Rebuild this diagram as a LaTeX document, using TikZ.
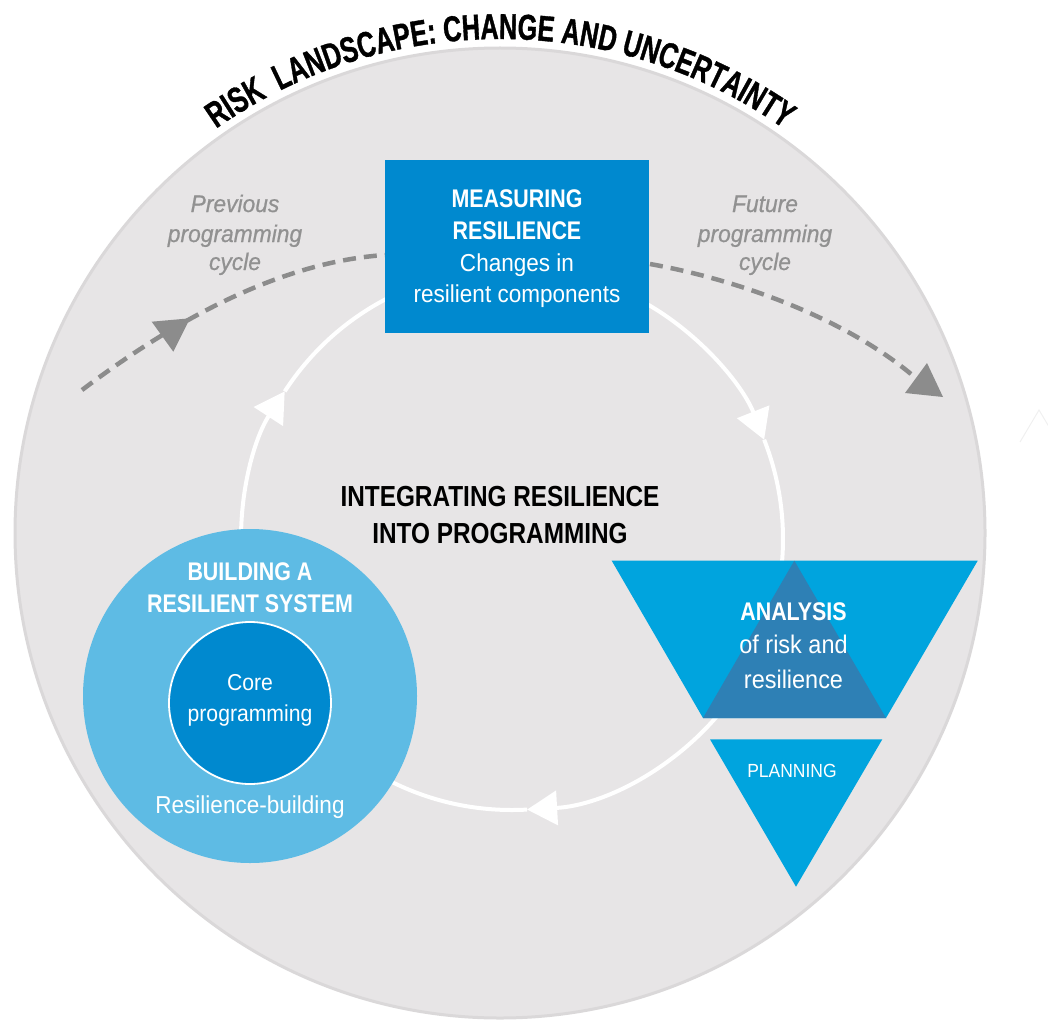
\documentclass[tikz,border=0pt]{standalone}
\usepackage{fontspec}
\usetikzlibrary{arrows.meta,decorations.text}
\newfontfamily\titlefont[FakeStretch=0.7,FakeBold=1]{Liberation Sans}
\newfontfamily\condfont[FakeStretch=0.84]{Liberation Sans}
\newfontfamily\regfont[FakeStretch=0.92]{Liberation Sans}
\newfontfamily\itfont[FakeBold=0.7,FakeStretch=0.95]{Liberation Sans}
\definecolor{bgfill}{RGB}{231,229,230}
\definecolor{bgrim}{RGB}{218,216,217}
\definecolor{boxblue}{RGB}{0,137,207}
\definecolor{ringblue}{RGB}{94,187,228}
\definecolor{triblue}{RGB}{0,164,222}
\definecolor{tridark}{RGB}{46,128,181}
\definecolor{greytext}{RGB}{145,145,145}
\definecolor{dashgrey}{RGB}{140,140,140}
\begin{document}
\begin{tikzpicture}[x=1pt,y=-1pt,
  lbl/.style={inner sep=0pt, anchor=base, text=white},
  boldtxt/.style={font=\condfont\bfseries\fontsize{25.5}{30}\selectfont},
  regtxt/.style={font=\regfont\fontsize{24.5}{30}\selectfont},
  greytxt/.style={inner sep=0pt, anchor=base, text=greytext, font=\itfont\itshape\fontsize{24}{29}\selectfont},
  loopline/.style={white, line width=4pt, -{Triangle[length=30pt,width=34pt]}},
  dashline/.style={dashgrey, line width=4.5pt, dash pattern=on 13pt off 8pt},
]
\useasboundingbox (0,0) rectangle (1048,1019);
% background landscape circle
\coordinate (bc) at (500,533);
\fill[bgfill, draw=bgrim, line width=3pt] (bc) circle[radius=485];
% title along arc
\path[decorate, decoration={text along path, text align=center,
  text={|\titlefont\bfseries\fontsize{36}{38}\selectfont|RISK {~}LANDSCAPE: CHANGE AND UNCERTAINTY}}]
  (bc) ++(230:494) arc[start angle=230, end angle=310, radius=494];
% faint outline triangle at right edge
\draw[white!94!black, line width=1pt] (1020,442) -- (1039,410) -- (1058,442);
% previous / future programming cycle dashed arcs
\draw[dashline] (82,390) .. controls (175,320) and (280,262) .. (385,255);
\fill[dashgrey] (151.7,321.7) -- (190,318.3) -- (173.3,351.7) -- cycle;
\draw[dashline] (650,264) .. controls (740,280) and (850,320) .. (918,380);
\fill[dashgrey] (905,393) -- (927,363) -- (943,397) -- cycle;
% inner white cycle
\coordinate (ic) at (512,539);
\draw[loopline] (ic) ++(338.5:271) arc[start angle=338.5, end angle=446.8, radius=271];
\draw[loopline] (ic) ++(86.8:271) arc[start angle=86.8, end angle=213, radius=271];
\draw[loopline] (ic) ++(213:271) arc[start angle=213, end angle=338.5, radius=271];
% measuring box
\fill[boxblue] (385,160) rectangle (649,333);
% building circle
\coordinate (bcen) at (250,696);
\fill[ringblue] (bcen) circle[radius=167];
\fill[boxblue, draw=white, line width=1.8pt] (250,703) circle[radius=81];
% analysis + planning triangles
\fill[triblue] (611.7,560.7) -- (977.7,560.7) -- (886,718) -- (703,718) -- cycle;
\fill[tridark] (794.3,560.7) -- (886,718) -- (703,718) -- cycle;
\fill[triblue] (710,739.3) -- (882.3,739.3) -- (796,886.7) -- cycle;
% texts
\node[greytxt] (p1) at (235,212) {Previous};
\node[greytxt] (p2) at (235,242) {programming};
\node[greytxt] (p3) at (235,270) {cycle};
\node[greytxt] (f1) at (765,212) {Future};
\node[greytxt] (f2) at (765,242) {programming};
\node[greytxt] (f3) at (765,270) {cycle};
\node[lbl, boldtxt] (m1) at (517,207) {MEASURING};
\node[lbl, boldtxt] (m2) at (517,239) {RESILIENCE};
\node[lbl, regtxt] (m3) at (517,271) {Changes in};
\node[lbl, regtxt] (m4) at (517,302) {resilient components};
\node[lbl, text=black, font=\condfont\bfseries\fontsize{29}{32}\selectfont] (c1) at (500,506) {INTEGRATING RESILIENCE};
\node[lbl, text=black, font=\condfont\bfseries\fontsize{29}{32}\selectfont] (c2) at (500,543) {INTO PROGRAMMING};
\node[lbl, boldtxt] (b1) at (250,580) {BUILDING A};
\node[lbl, boldtxt] (b2) at (250,612.5) {RESILIENT SYSTEM};
\node[lbl, font=\regfont\fontsize{23}{28}\selectfont] (k1) at (250,690) {Core};
\node[lbl, font=\regfont\fontsize{23}{28}\selectfont] (k2) at (250,721) {programming};
\node[lbl, regtxt] (b3) at (250,813) {Resilience-building};
\node[lbl, boldtxt] (a1) at (793.5,620) {ANALYSIS};
\node[lbl, font=\regfont\fontsize{25.5}{30}\selectfont] (a2) at (793.5,653) {of risk and};
\node[lbl, font=\regfont\fontsize{25.5}{30}\selectfont] (a3) at (793.5,688) {resilience};
\node[lbl, font=\regfont\fontsize{19}{23}\selectfont] (pl) at (792,777) {PLANNING};
\end{tikzpicture}
\end{document}
